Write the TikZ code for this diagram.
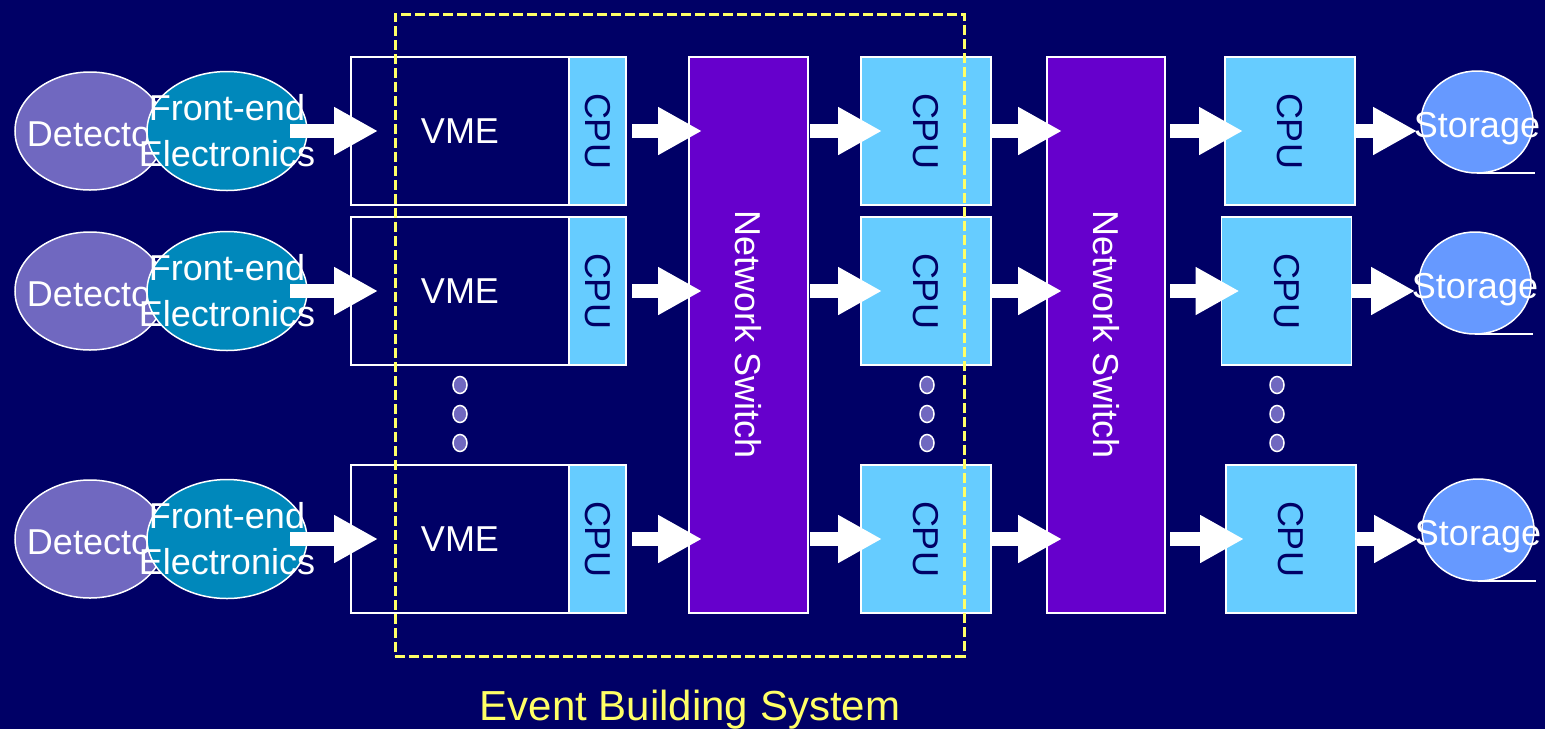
\documentclass[tikz,border=0pt]{standalone}
\usepackage{fontspec}
\setmainfont{Liberation Sans}
\usetikzlibrary{arrows.meta,shapes.geometric,calc}
\definecolor{bg}{HTML}{000066}
\definecolor{detc}{RGB}{112,104,192}
\definecolor{fec}{HTML}{0088BB}
\definecolor{cpucol}{HTML}{66CCFF}
\definecolor{swc}{HTML}{6600CC}
\definecolor{stc}{HTML}{6699FF}
\definecolor{ylw}{HTML}{FFFF66}
\begin{document}
\begin{tikzpicture}[x=1pt,y=-1pt,
  every node/.style={inner sep=0pt, outer sep=0pt},
  txt/.style={text=white, font=\fontsize{36pt}{46pt}\selectfont},
  detector/.style={ellipse, draw=white, line width=1.5pt, fill=detc, minimum width=150pt, minimum height=118pt},
  frontend/.style={ellipse, draw=white, line width=1.5pt, fill=fec, minimum width=160pt, minimum height=119pt},
  vmebox/.style={rectangle, draw=white, line width=1.5pt, fill=bg, minimum width=218pt, minimum height=148pt, txt},
  cpubox/.style={rectangle, draw=white, line width=1.5pt, fill=cpucol, minimum height=148pt, text=bg, font=\fontsize{36pt}{46pt}\selectfont},
  switchbox/.style={rectangle, draw=white, line width=1.5pt, fill=swc, minimum height=556pt, txt},
  storage/.style={ellipse, draw=white, line width=1.5pt, fill=stc, minimum width=112pt, minimum height=102pt},
  dotnode/.style={ellipse, draw=white, line width=1.5pt, fill=detc, minimum width=14pt, minimum height=17pt},
  blockarrow/.style={draw=white, line width=13.5pt, -{Triangle[length=44pt, width=45pt]}},
  ebsbox/.style={rectangle, draw=ylw, line width=3pt, dash pattern=on 10pt off 4pt},
]
\fill[bg] (0,0) rectangle (1545,729);
\useasboundingbox (0,0) rectangle (1545,729);

\node[switchbox, minimum width=119pt] (sw1) at (748.5,335) {\rotatebox{-90}{Network Switch}};
\node[switchbox, minimum width=118pt] (sw2) at (1106,335) {\rotatebox{-90}{Network Switch}};

\foreach \r/\y/\cx/\sx/\sy in {1/131/1290/1477/122, 2/291/1286.5/1475/283, 3/539/1291/1478/530}{
  \node[detector] (det\r) at (90,\y) {};
  \node[txt, anchor=base west] (dett\r) at ($(det\r.center)+(-63,15)$) {Detector};
  \node[frontend] (fe\r) at (227,\y) {};
  \node[txt, align=center] (fet\r) at (227,\y) {Front-end\\Electronics};
  \node[vmebox] (vme\r) at (460,\y) {VME};
  \node[cpubox, minimum width=57pt] (cpua\r) at (597.5,\y) {\rotatebox{-90}{CPU}};
  \node[cpubox, minimum width=130pt] (cpub\r) at (926,\y) {\rotatebox{-90}{CPU}};
  \node[cpubox, minimum width=130pt] (cpuc\r) at (\cx,\y) {\rotatebox{-90}{CPU}};
  \node[storage] (st\r) at (\sx,\sy) {};
  \node[txt, anchor=base] (stt\r) at ($(st\r.center)+(0,15)$) {Storage};
  \draw[white, line width=1.5pt] (st\r.south) -- ++(58,0);
  \draw[blockarrow] ($(fe\r.east)+(-17,0)$) -- ($(vme\r.west)+(27,0)$);
  \draw[blockarrow] ($(cpua\r.east)+(6,0)$) -- ($(sw1.west |- cpua\r)+(13,0)$);
  \draw[blockarrow] ($(sw1.east |- cpub\r)+(2,0)$) -- ($(cpub\r.west)+(21,0)$);
  \draw[blockarrow] ($(cpub\r.east)+(-1,0)$) -- ($(sw2.west |- cpub\r)+(15,0)$);
  \draw[blockarrow] ($(sw2.east |- cpuc\r)+(5,0)$) -- ($(cpuc\r.west)+(18,0)$);
  \draw[blockarrow] (cpuc\r.east) -- ($(st\r.west |- cpuc\r)+(-4,0)$);
}

\foreach \dx [count=\i] in {460,927,1277}{
  \foreach \dy [count=\j] in {385,414,443}{
    \node[dotnode] (dot\i\j) at (\dx,\dy) {};
  }
}

\node[ebsbox, minimum width=569pt, minimum height=642pt] (ebs) at (679.5,335) {};
\node[text=ylw, font=\fontsize{42pt}{50pt}\selectfont, anchor=base] (ebsl) at (690,720) {Event Building System};
\end{tikzpicture}
\end{document}
